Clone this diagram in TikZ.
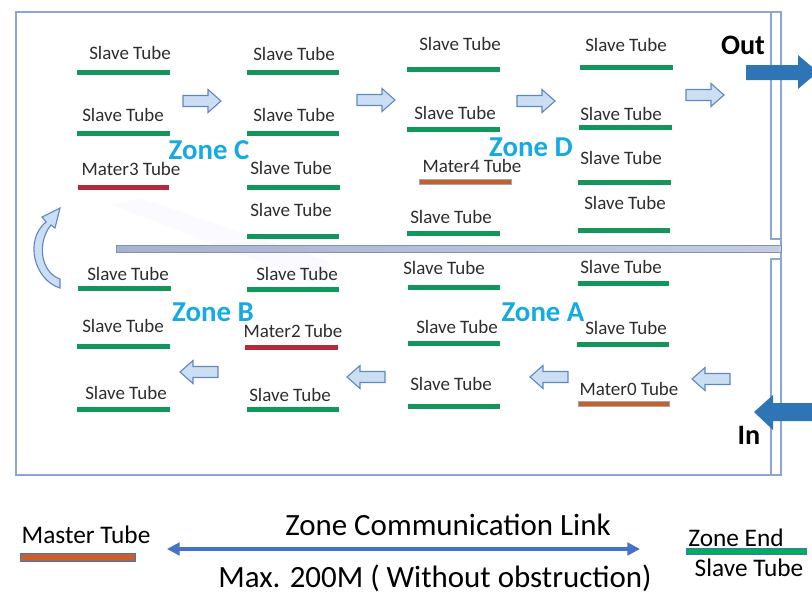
\documentclass[tikz,border=0pt]{standalone}
\usepackage{fontspec}
\setmainfont{Carlito}
\usetikzlibrary{arrows.meta}

\definecolor{tubegreen}{RGB}{18,150,92}
\definecolor{legendgreen}{RGB}{0,176,80}
\definecolor{masterred}{RGB}{180,42,60}
\definecolor{masterorange}{RGB}{197,95,45}
\definecolor{zonecyan}{RGB}{22,170,228}
\definecolor{framecol}{RGB}{140,165,210}
\definecolor{flowfill}{RGB}{204,222,242}
\definecolor{flowedge}{RGB}{95,135,200}
\definecolor{bigblue}{RGB}{46,117,182}
\definecolor{linkblue}{RGB}{68,114,196}
\definecolor{labelgray}{RGB}{45,45,45}
\definecolor{pipeleft}{RGB}{168,178,205}
\definecolor{piperight}{RGB}{196,204,222}
\definecolor{pipeedge}{RGB}{130,145,182}

\tikzset{
  slavebar/.style={fill=tubegreen, draw=none},
  redbar/.style={fill=masterred, draw=none},
  orangebar/.style={fill=masterorange, draw=gray!70, line width=0.4pt},
  tubelabel/.style={font=\fontsize{13.5}{16}\selectfont, text=labelgray, inner sep=0pt},
  zonelabel/.style={font=\fontsize{20.5}{24}\selectfont\bfseries, text=zonecyan, inner sep=0pt},
  portlabel/.style={font=\fontsize{20}{24}\selectfont\bfseries, inner sep=0pt},
  legendtext/.style={font=\fontsize{18}{22}\selectfont, inner sep=0pt},
  linktext/.style={font=\fontsize{22}{26}\selectfont, inner sep=0pt},
  flowarrow/.pic={
    \filldraw [fill=flowfill, draw=flowedge, line width=0.8pt]
      (-19,-5.5) -- (6,-5.5) -- (6,-11.5) -- (19,0) -- (6,11.5) -- (6,5.5) -- (-19,5.5) -- cycle;
  },
}

\begin{document}
\begin{tikzpicture}[x=0.025cm,y=-0.025cm]
    \useasboundingbox (0,0) rectangle (812,594);

    % frame and walls
    \draw [framecol, line width=1.1pt] (16,12) rectangle (781,475);
    \draw [framecol, line width=0.8pt] (771,12) rectangle (781,239);
    \draw [framecol, line width=0.8pt] (771,259) rectangle (781,475);
    \fill [blue!30, opacity=0.06] (112,205) -- (140,198) -- (330,262) -- (320,285) -- cycle;
    \draw [left color=pipeleft, right color=piperight, draw=pipeedge] (116,245) rectangle (781,252);

    % zone C
    \draw [slavebar] (77,69.5) rectangle (170,74.5);
    \node [tubelabel] (t11) at (130,53) {Slave Tube};
    \draw [slavebar] (77,130.5) rectangle (170,135.5);
    \node [tubelabel] (t12) at (123,115) {Slave Tube};
    \draw [redbar] (78,184.5) rectangle (169,189.5);
    \node [tubelabel] (t13) at (131,169) {Mater3 Tube};
    \draw [slavebar] (247,69.5) rectangle (339,74.5);
    \node [tubelabel] (t21) at (294,54) {Slave Tube};
    \draw [slavebar] (247,130.5) rectangle (339,135.5);
    \node [tubelabel] (t22) at (294,115) {Slave Tube};
    \draw [slavebar] (247,184.5) rectangle (340,189.5);
    \node [tubelabel] (t23) at (291,168) {Slave Tube};
    \draw [slavebar] (247,233.5) rectangle (339,238.5);
    \node [tubelabel] (t24) at (291,210) {Slave Tube};
    \node [zonelabel] (zoneC) at (209,150) {Zone C};

    % zone D
    \draw [slavebar] (407,66.5) rectangle (500,71.5);
    \node [tubelabel] (t31) at (460,44) {Slave Tube};
    \draw [slavebar] (407,126.5) rectangle (500,131.5);
    \node [tubelabel] (t32) at (455,113) {Slave Tube};
    \draw [orangebar] (419,179.5) rectangle (511,184.5);
    \node [tubelabel] (t33) at (472,166) {Mater4 Tube};
    \draw [slavebar] (407,230.5) rectangle (500,235.5);
    \node [tubelabel] (t34) at (451,217) {Slave Tube};
    \draw [slavebar] (580,64.5) rectangle (673,69.5);
    \node [tubelabel] (t41) at (626,45) {Slave Tube};
    \draw [slavebar] (579,124.5) rectangle (672,129.5);
    \node [tubelabel] (t42) at (621,114) {Slave Tube};
    \draw [slavebar] (578,179.5) rectangle (671,184.5);
    \node [tubelabel] (t43) at (621,158) {Slave Tube};
    \draw [slavebar] (578,227.5) rectangle (670,232.5);
    \node [tubelabel] (t44) at (625,203) {Slave Tube};
    \node [zonelabel] (zoneD) at (531,147) {Zone D};

    % zone B
    \draw [slavebar] (78,285.5) rectangle (171,290.5);
    \node [tubelabel] (t15) at (128,274) {Slave Tube};
    \draw [slavebar] (77,343.5) rectangle (170,348.5);
    \node [tubelabel] (t16) at (123,326) {Slave Tube};
    \draw [slavebar] (77,406.5) rectangle (170,411.5);
    \node [tubelabel] (t17) at (126,393) {Slave Tube};
    \draw [slavebar] (247,286.5) rectangle (339,291.5);
    \node [tubelabel] (t25) at (297,274) {Slave Tube};
    \draw [redbar] (245,344.5) rectangle (338,349.5);
    \node [tubelabel] (t26) at (293,331) {Mater2 Tube};
    \draw [slavebar] (247,406.5) rectangle (339,411.5);
    \node [tubelabel] (t27) at (290,395) {Slave Tube};
    \node [zonelabel] (zoneB) at (213,312) {Zone B};

    % zone A
    \draw [slavebar] (408,284.5) rectangle (500,289.5);
    \node [tubelabel] (t35) at (444,268) {Slave Tube};
    \draw [slavebar] (408,340.5) rectangle (500,345.5);
    \node [tubelabel] (t36) at (457,327) {Slave Tube};
    \draw [slavebar] (408,403.5) rectangle (500,408.5);
    \node [tubelabel] (t37) at (451,384) {Slave Tube};
    \draw [slavebar] (578,280.5) rectangle (669,285.5);
    \node [tubelabel] (t45) at (621,267) {Slave Tube};
    \draw [slavebar] (577,341.5) rectangle (669,346.5);
    \node [tubelabel] (t46) at (626,328) {Slave Tube};
    \draw [orangebar] (578,401.5) rectangle (669,406.5);
    \node [tubelabel] (t47) at (629,389) {Mater0 Tube};
    \node [zonelabel] (zoneA) at (543,312) {Zone A};

    % flow arrows
    \pic (f1) at (202,101) {flowarrow};
    \pic (f2) at (376,100) {flowarrow};
    \pic (f3) at (536,101) {flowarrow};
    \pic (f4) at (705,95) {flowarrow};
    \pic [xscale=-1] (f5) at (199,372) {flowarrow};
    \pic [xscale=-1] (f6) at (366,377) {flowarrow};
    \pic [xscale=-1] (f7) at (549,377) {flowarrow};
    \pic [xscale=-1] (f8) at (711,379) {flowarrow};
    \filldraw [fill=flowfill, draw=flowedge, line width=0.8pt] (60,288) .. controls (34,280) and (24,240) .. (46,222)
        -- (42,217) -- (60,208) -- (55,228) -- (51,225) .. controls (37,242) and (40,272) .. (60,279) -- cycle;

    % in and out
    \fill [bigblue] (746,65) -- (798,65) -- (798,55) -- (818,72) -- (798,89) -- (798,80) -- (746,80) -- cycle;
    \node [portlabel] (out) at (743,45) {Out};
    \fill [bigblue] (754,412) -- (773,395) -- (773,403) -- (815,403) -- (815,421) -- (773,421) -- (773,430) -- cycle;
    \node [portlabel] (in) at (749,435) {In};

    % legend
    \node [legendtext] (master) at (86,535) {Master Tube};
    \draw [fill=masterorange, draw=linkblue, line width=0.4pt] (20,553) rectangle (135,561);
    \coordinate (linkL) at (167,549);
    \coordinate (linkR) at (640,549);
    \draw [{Triangle[length=9pt,width=9pt]}-{Triangle[length=9pt,width=9pt]}, linkblue, line width=2.2pt] (linkL) -- (linkR);
    \node [linktext] (link) at (448,525) {Zone Communication Link};
    \node [linktext] (range) at (435,578) {Max. 200M ( Without obstruction)};
    \node [legendtext] (zend) at (736,538) {Zone End};
    \draw [fill=legendgreen, draw=linkblue, line width=0.4pt] (686,548) rectangle (806,554);
    \node [legendtext] (slave) at (749,568) {Slave Tube};

\end{tikzpicture}
\end{document}
